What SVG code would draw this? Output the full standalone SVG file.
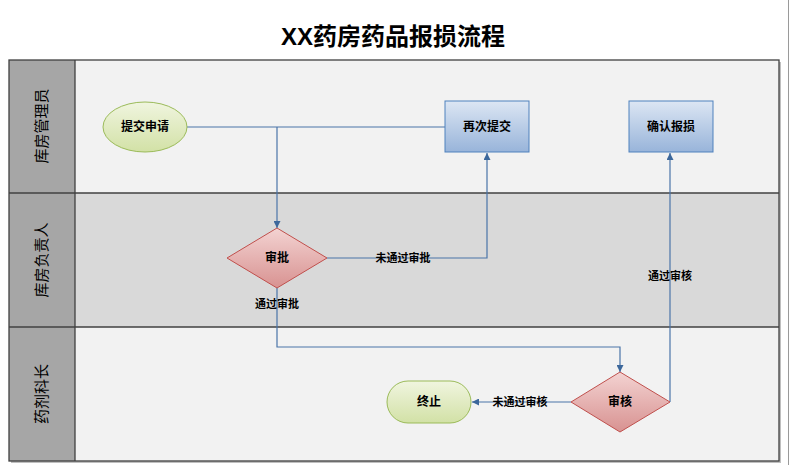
<svg xmlns="http://www.w3.org/2000/svg" width="792" height="465" viewBox="0 0 792 465">
<defs>
<linearGradient id="gGreen" x1="0" y1="0" x2="0" y2="1"><stop offset="0" stop-color="#f0f5df"/><stop offset="1" stop-color="#d2e1a6"/></linearGradient>
<linearGradient id="gBlue" x1="0" y1="0" x2="0" y2="1"><stop offset="0" stop-color="#dce6f3"/><stop offset="1" stop-color="#98b4da"/></linearGradient>
<linearGradient id="gRed" x1="0" y1="0" x2="0" y2="1"><stop offset="0" stop-color="#f3d3d2"/><stop offset="1" stop-color="#d89291"/></linearGradient>
<marker id="arr" viewBox="0 0 10 10" refX="10" refY="5" markerWidth="9" markerHeight="7" markerUnits="userSpaceOnUse" orient="auto"><path d="M0,0 L10,5 L0,10 z" fill="#3c679b"/></marker>
<style>
.t{font-family:"Liberation Sans","Noto Sans CJK SC",sans-serif;fill:#000;}
.title{font-size:24px;font-weight:bold;}
.lane{font-size:15px;}
.node{font-size:12px;font-weight:bold;}
.el{font-size:11px;font-weight:bold;}
.c{fill:none;stroke:#4a74a8;stroke-width:1.2;}
</style>
</defs>
<rect width="792" height="465" fill="#ffffff"/>
<line x1="788.5" y1="0" x2="788.5" y2="465" stroke="#9a9a9a" stroke-width="1"/>
<rect x="11" y="62" width="770" height="401" fill="#bfbfbf"/>
<text class="t title" x="393" y="45" text-anchor="middle">XX药房药品报损流程</text>
<g id="lanes">
<rect x="75" y="60" width="704" height="133" fill="#f2f2f2"/>
<rect x="75" y="193" width="704" height="134" fill="#d9d9d9"/>
<rect x="75" y="327" width="704" height="134" fill="#f2f2f2"/>
<rect x="9" y="60" width="66" height="401" fill="#a6a6a6"/>
<g stroke="#404040" stroke-width="1.3" fill="none">
<rect x="9" y="60" width="770" height="401"/>
<line x1="75" y1="60" x2="75" y2="461"/>
<line x1="9" y1="193" x2="779" y2="193"/>
<line x1="9" y1="327" x2="779" y2="327"/>
</g>
<text class="t lane" transform="translate(47,126) rotate(-90)" text-anchor="middle">库房管理员</text>
<text class="t lane" transform="translate(47,260) rotate(-90)" text-anchor="middle">库房负责人</text>
<text class="t lane" transform="translate(47,394) rotate(-90)" text-anchor="middle">药剂科长</text>
</g>
<g id="connectors">
<path class="c" d="M187,127 L445,127"/>
<path class="c" d="M277,127 L277,228" marker-end="url(#arr)"/>
<path class="c" d="M327,258 L487,258 L487,153" marker-end="url(#arr)"/>
<path class="c" d="M277,288 L277,347 L620,347 L620,372" marker-end="url(#arr)"/>
<path class="c" d="M670,402 L670,153" marker-end="url(#arr)"/>
<path class="c" d="M571,402 L472,402" marker-end="url(#arr)"/>
<text class="t el" x="403" y="262" text-anchor="middle">未通过审批</text>
<text class="t el" x="277" y="308" text-anchor="middle">通过审批</text>
<text class="t el" x="670" y="280" text-anchor="middle">通过审核</text>
<text class="t el" x="520" y="406" text-anchor="middle">未通过审核</text>
</g>
<g id="start">
<ellipse cx="145" cy="127" rx="42" ry="25" fill="url(#gGreen)" stroke="#9bbb59" stroke-width="1"/>
<text class="t node" x="145" y="131" text-anchor="middle">提交申请</text>
</g>
<g id="resubmit">
<rect x="445" y="101" width="84" height="51" fill="url(#gBlue)" stroke="#4f81bd" stroke-width="1"/>
<text class="t node" x="487" y="131" text-anchor="middle">再次提交</text>
</g>
<g id="confirm">
<rect x="629" y="101" width="84" height="51" fill="url(#gBlue)" stroke="#4f81bd" stroke-width="1"/>
<text class="t node" x="671" y="131" text-anchor="middle">确认报损</text>
</g>
<g id="approve">
<path d="M277,228 L327,258 L277,288 L227,258 z" fill="url(#gRed)" stroke="#c0504d" stroke-width="1"/>
<text class="t node" x="277" y="262" text-anchor="middle">审批</text>
</g>
<g id="review">
<path d="M620,372 L670,402 L620,432 L571,402 z" fill="url(#gRed)" stroke="#c0504d" stroke-width="1"/>
<text class="t node" x="620" y="406" text-anchor="middle">审核</text>
</g>
<g id="end">
<rect x="387" y="381" width="84" height="42" rx="21" ry="21" fill="url(#gGreen)" stroke="#9bbb59" stroke-width="1"/>
<text class="t node" x="429" y="406" text-anchor="middle">终止</text>
</g>
</svg>
